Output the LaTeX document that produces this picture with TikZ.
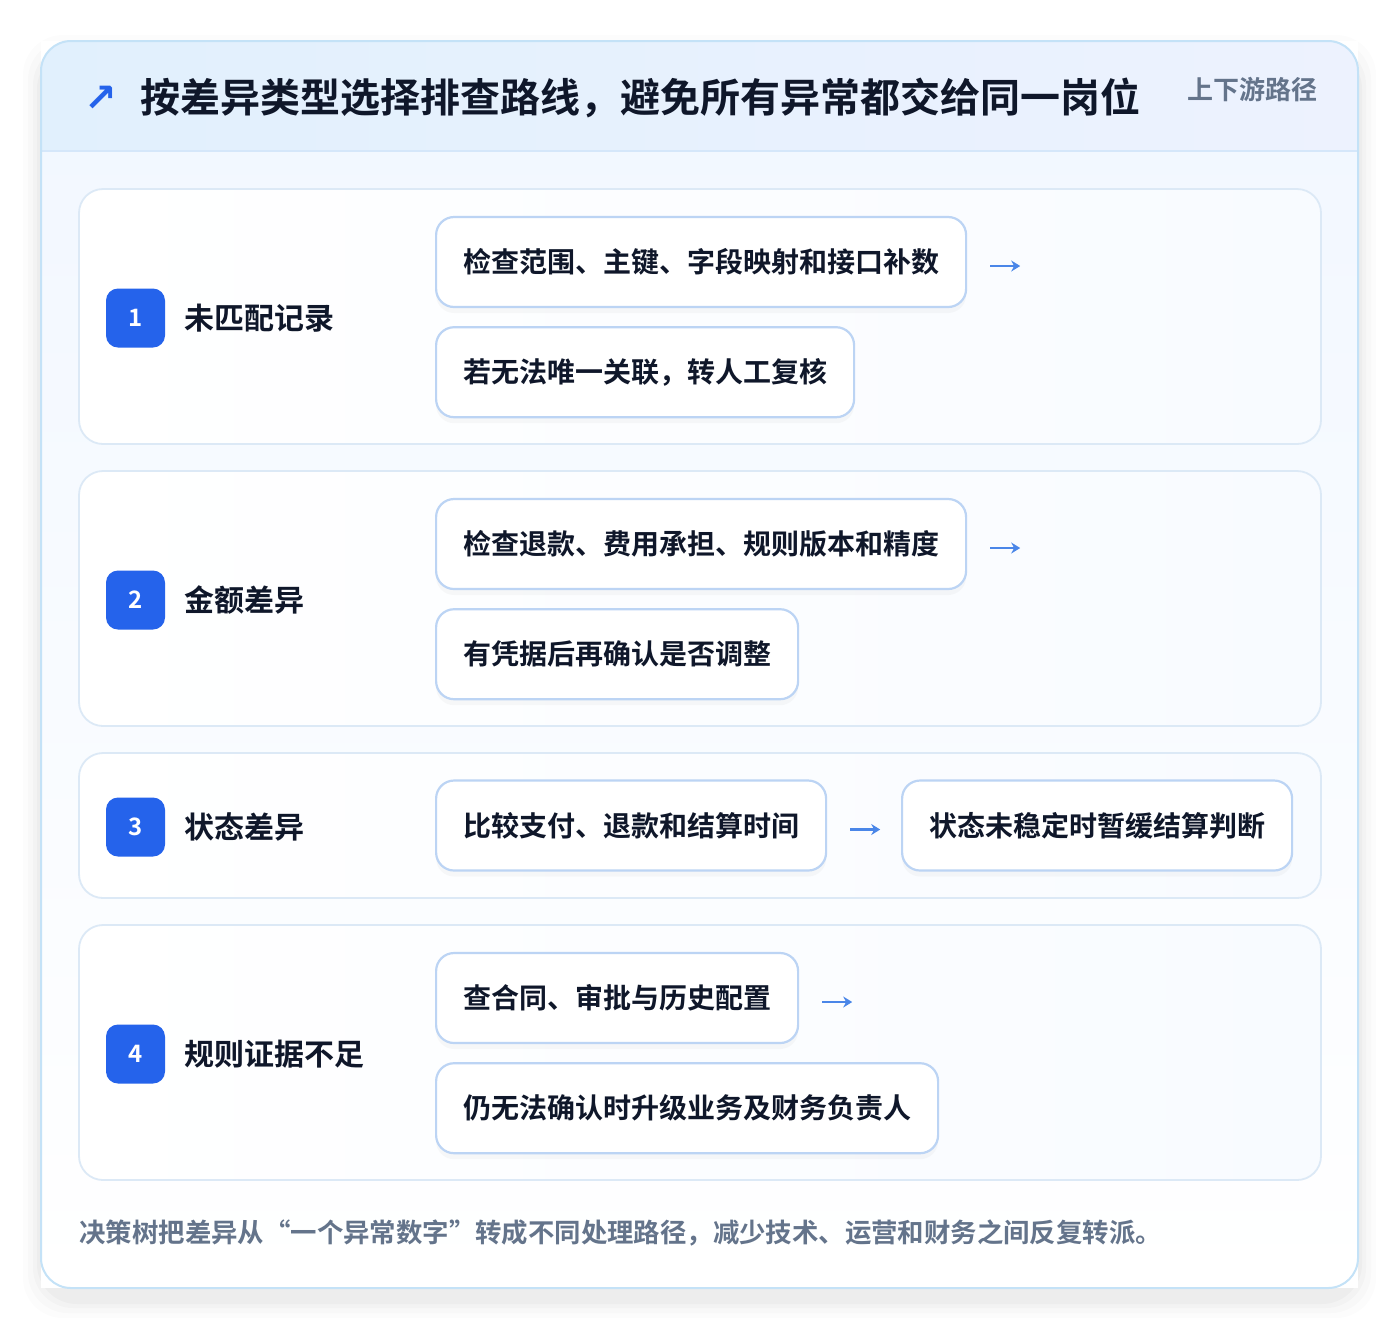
\documentclass[tikz,border=0pt]{standalone}
\usepackage{fontspec}
\setmainfont{Noto Sans CJK SC}[BoldFont={* Bold}]
\newfontfamily\symfont{DejaVu Sans}
\usepackage{tikz}
\usetikzlibrary{positioning,shadows,arrows.meta}

\definecolor{ink}{HTML}{0F172A}
\definecolor{muted}{HTML}{64748B}
\definecolor{badgeblue}{HTML}{2563EB}
\definecolor{arrowblue}{HTML}{4A86E8}
\definecolor{pillline}{HTML}{BCD4F4}
\definecolor{rowline}{HTML}{DCE9F6}
\definecolor{rowright}{HTML}{F8FBFF}
\definecolor{cardline}{HTML}{C4E2F7}
\definecolor{cardtop}{HTML}{F1F7FF}
\definecolor{headleft}{HTML}{E1F0FD}
\definecolor{headright}{HTML}{EDF2FE}
\definecolor{headline}{HTML}{D5E7FA}

\begin{document}
\begin{tikzpicture}[
            x=0.5pt,y=-0.5pt,
            rowbox/.style={
            draw=rowline,
            line width=0.9pt,
            rounded corners=12pt,
            left color=white,
            right color=rowright,
            minimum width=621pt,
            inner sep=0pt
            },
            pill/.style={
            draw=pillline,
            line width=1.1pt,
            fill=white,
            rounded corners=9pt,
            minimum height=45pt,
            inner xsep=13.5pt,
            text=ink,
            font=\bfseries\fontsize{14}{17}\selectfont,
            drop shadow={opacity=0.05,shadow xshift=0pt,shadow yshift=-3pt}
            },
            badge/.style={
            fill=badgeblue,
            rounded corners=6pt,
            minimum size=29.5pt,
            inner sep=0pt,
            text=white,
            font=\bfseries\fontsize{12}{14}\selectfont
            },
            kind/.style={
            anchor=west,
            inner sep=0pt,
            text=ink,
            font=\bfseries\fontsize{15}{18}\selectfont
            },
            flowarrow/.style={
            draw=arrowblue,
            line width=1.2pt,
            -{Stealth[length=4.5pt,width=5.5pt]}
            }
            ]
            \useasboundingbox (0,0) rectangle (1400,1330);
            % soft shadow of the card
            \foreach \s/\o in {18/0.010,13/0.014,8/0.018,4/0.022}
            \fill[black,opacity=\o,rounded corners=20pt] (41-\s,41-\s+12) rectangle (1358+\s,1288+\s+12);
            \fill[white] (41,41) rectangle (1358,1288);
            \fill[top color=cardtop,bottom color=white,rounded corners=15pt] (41,41) rectangle (1358,1288);
            \begin{scope}
            \clip[rounded corners=15pt] (41,41) rectangle (1358,1288);
            \fill[left color=headleft,right color=headright] (41,41) rectangle (1358,151);
            \draw[headline,line width=1pt] (41,151) -- (1358,151);
            \end{scope}
            \draw[cardline,line width=1pt,rounded corners=15pt] (41,41) rectangle (1358,1288);
            % header
            \node[text=badgeblue,font=\symfont\bfseries\fontsize{19.5}{22}\selectfont,inner sep=0pt] (icon) at (101,99) {↗};
            \node[anchor=west,inner sep=0pt,text=ink,font=\bfseries\fontsize{20}{24}\selectfont] (title) at (140,98) {按差异类型选择排查路线，避免所有异常都交给同一岗位};
            \node[anchor=east,inner sep=0pt,text=muted,font=\bfseries\fontsize{13}{16}\selectfont] (tag) at (1318,90) {上下游路径};
            % rows
            \foreach \Value/\Y/\H/\Kind in {1/316.5/127.5/未匹配记录,2/598.5/127.5/金额差异,3/825.5/72.5/状态差异,4/1052.5/127.5/规则证据不足}
            {
            \node[rowbox,minimum height=\H pt] (r\Value) at (700,\Y) {};
            \node[badge] (b\Value) at (135.5,\Y+1.5) {\Value};
            \node[kind] (k\Value) at (184,\Y+1.5) {\Kind};
            }
            % row 1
            \node[pill,anchor=west] (p11) at (435,262) {检查范围、主键、字段映射和接口补数};
            \node[pill,below=9pt of p11.south west,anchor=north west] (p12) {若无法唯一关联，转人工复核};
            \coordinate (a1s) at ([xshift=11.5pt,yshift=-2pt]p11.east);
            \coordinate (a1e) at ([xshift=15pt]a1s);
            % row 2
            \node[pill,anchor=west] (p21) at (435,544) {检查退款、费用承担、规则版本和精度};
            \node[pill,below=9pt of p21.south west,anchor=north west] (p22) {有凭据后再确认是否调整};
            \coordinate (a2s) at ([xshift=11.5pt,yshift=-2pt]p21.east);
            \coordinate (a2e) at ([xshift=15pt]a2s);
            % row 3
            \node[pill,anchor=west] (p31) at (435,825.5) {比较支付、退款和结算时间};
            \node[pill,anchor=west] (p32) at (901,825.5) {状态未稳定时暂缓结算判断};
            \coordinate (a3s) at ([xshift=11.5pt,yshift=-2pt]p31.east);
            \coordinate (a3e) at ([xshift=15pt]a3s);
            % row 4
            \node[pill,anchor=west] (p41) at (435,998) {查合同、审批与历史配置};
            \node[pill,below=9pt of p41.south west,anchor=north west] (p42) {仍无法确认时升级业务及财务负责人};
            \coordinate (a4s) at ([xshift=11.5pt,yshift=-2pt]p41.east);
            \coordinate (a4e) at ([xshift=15pt]a4s);
            \foreach \Value in {1,...,4}
            \draw[flowarrow] (a\Value s) -- (a\Value e);
            % footer
            \node[anchor=west,inner sep=0pt,text=muted,font=\bfseries\fontsize{13.2}{16}\selectfont] (note) at (79,1233) {决策树把差异从“一个异常数字”转成不同处理路径，减少技术、运营和财务之间反复转派。};
        \end{tikzpicture}
\end{document}
